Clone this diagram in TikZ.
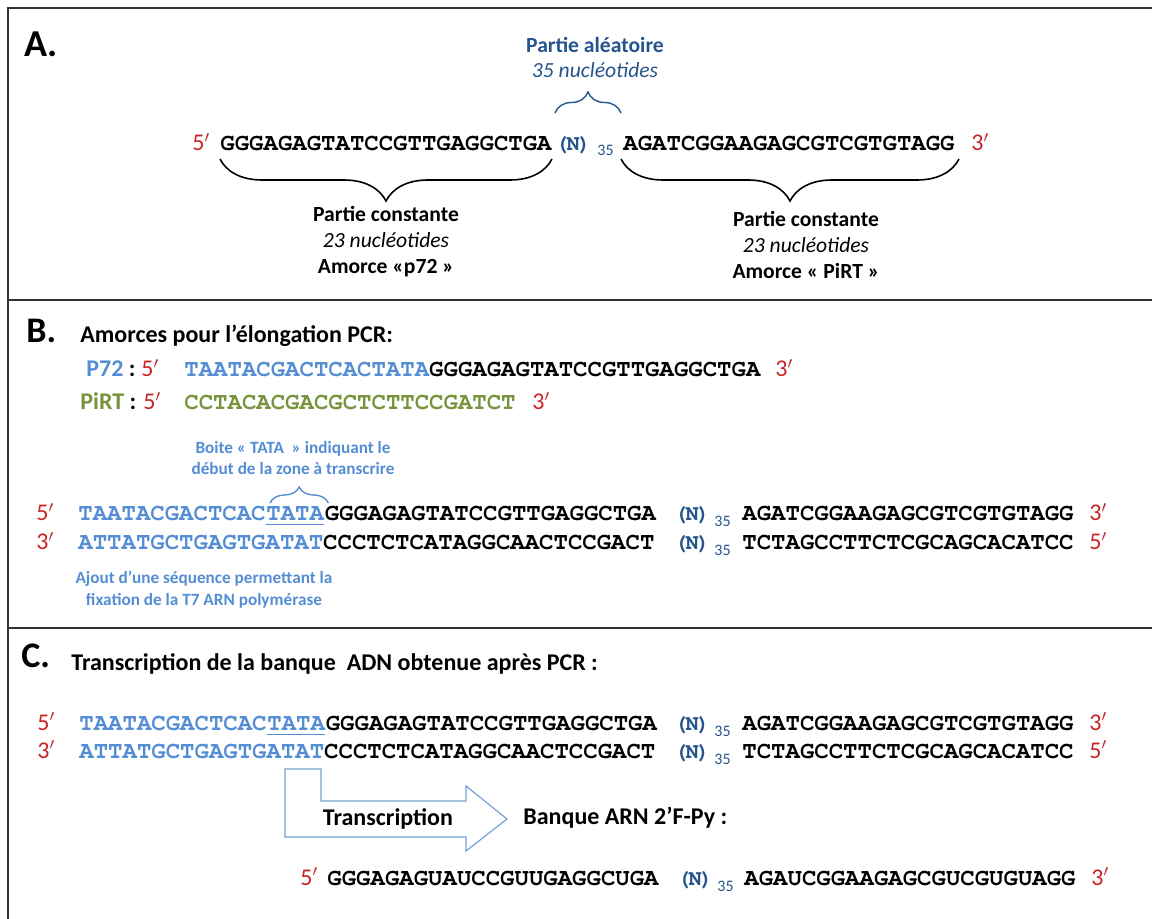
\documentclass[tikz,border=0pt]{standalone}
\usepackage{fontspec}
\setmainfont{Carlito}
\newcommand\seqfont{\fontencoding{T1}\fontfamily{pcr}\selectfont}
\newcommand\randN{(\kern-1pt N\kern-1pt)}
\usetikzlibrary{positioning, decorations.pathreplacing, calc}

\definecolor{primered}{RGB}{200,38,38}
\definecolor{randblue}{RGB}{38,84,140}
\definecolor{promblue}{RGB}{84,141,212}
\definecolor{pirtgreen}{RGB}{119,147,60}
\definecolor{arrowblue}{RGB}{120,160,215}
\definecolor{framegray}{RGB}{50,50,50}

\begin{document}
\begin{tikzpicture}[
    x=0.5pt, y=-0.5pt,
    seq/.style={inner sep=0pt, anchor=base west, font=\seqfont\bfseries\fontsize{12}{12}\selectfont},
    nrand/.style={inner sep=0pt, anchor=base west, text=randblue, font=\seqfont\bfseries\fontsize{11}{11}\selectfont},
    sub/.style={inner sep=0pt, anchor=base west, text=randblue, font=\fontsize{8}{8}\selectfont},
    prime/.style={inner sep=0pt, anchor=base west, text=primered, font=\fontsize{12}{12}\selectfont},
    panel/.style={inner sep=0pt, anchor=base west, font=\bfseries\fontsize{18}{18}\selectfont},
    title/.style={inner sep=0pt, anchor=base west, font=\bfseries\fontsize{12}{12}\selectfont},
    primer/.style={inner sep=0pt, anchor=base west, font=\bfseries\fontsize{12}{12}\selectfont},
    lbl/.style={inner sep=0pt, anchor=base, font=\bfseries\fontsize{10.8}{10.8}\selectfont},
    lblit/.style={inner sep=0pt, anchor=base, font=\itshape\fontsize{10.8}{10.8}\selectfont},
    note/.style={inner sep=0pt, anchor=base, text=promblue, font=\bfseries\fontsize{8.6}{8.6}\selectfont},
    bigbrace/.style={decorate, decoration={brace, amplitude=21pt, mirror}, line width=0.8pt},
    smallbrace/.style={decorate, decoration={brace, amplitude=#1}, line width=0.7pt},
    uline/.style={promblue, line width=0.5pt},
    trarrow/.style={draw=arrowblue, line width=0.6pt, fill=white},
    frame/.style={framegray, line width=0.9pt}
]
\useasboundingbox (0,0) rectangle (1152,919);

% Frame and panel separators
\draw[frame] (1152,8) -- (8,8) -- (8,919);
\draw[frame] (8,300) -- (1152,300);
\draw[frame] (8,628) -- (1152,628);

% ================= Panel A =================
\node[panel, font=\bfseries\fontsize{19}{19}\selectfont] (alab) at (24,57) {A.};

\node[lbl, text=randblue] (arandom) at (595,53) {Partie aléatoire};
\node[lblit, text=randblue] (arandnb) at (595,78) {35 nucléotides};

\node[prime] (a5) at (192,151) {5$'$};
\node[seq] (aseq1) at (220,151) {GGGAGAGTATCCGTTGAGGCTGA};
\node[nrand] (an) at (555,151) {\randN};
\node[sub] (a35) at (597,156) {35};
\node[seq] (aseq2) at (623,151) {AGATCGGAAGAGCGTCGTGTAGG};
\node[prime] (a3) at (971,151) {3$'$};

% braces
\draw[smallbrace=10.5pt, randblue] (555,113) -- (621,113);
\draw[bigbrace] ([yshift=-4pt]aseq1.base west) -- ([yshift=-4pt]aseq1.base east);
\draw[bigbrace] ([yshift=-4pt, xshift=-1pt]aseq2.base west) -- ([yshift=-4pt, xshift=2pt]aseq2.base east);

% constant parts
\node[lbl] (aconst1) at (386,222) {Partie constante};
\node[lblit] (anb1) at (386,248) {23 nucléotides};
\node[lbl] (ap72) at (386,274) {Amorce «p72 »};
\node[lbl] (aconst2) at (806,227) {Partie constante};
\node[lblit] (anb2) at (806,253) {23 nucléotides};
\node[lbl] (apirt) at (806,279) {Amorce « PiRT »};

% ================= Panel B =================
\node[panel] (blab) at (26,343) {B.};
\node[title] (btitle) at (80,343) {Amorces pour l’élongation PCR:};

% primers
\node[primer] (p72name) at (86,377) {{\color{promblue}P72} :};
\node[prime] (p72five) at (141,377) {5$'$};
\node[seq] (p72seq) at (184,377) {{\color{promblue}TAATACGACTCACTATA}GGGAGAGTATCCGTTGAGGCTGA};
\node[prime] (p72three) at (775,377) {3$'$};

\node[primer] (pirtname) at (80,410) {{\color{pirtgreen}PiRT} :};
\node[prime] (pirtfive) at (143,410) {5$'$};
\node[seq, text=pirtgreen] (pirtseq) at (184,410) {CCTACACGACGCTCTTCCGATCT};
\node[prime] (pirtthree) at (532,410) {3$'$};

% TATA box
\node[note] (bbox1) at (293,454) {Boite « TATA\ \ » indiquant le};
\node[note] (bbox2) at (293,475) {début de la zone à transcrire};

% double strand
\node[prime] (b5top) at (36,521) {5$'$};
\node[seq, text=promblue] (btop1) at (78,521) {TAATACGACTCAC};
\node[seq, text=promblue] (btata) at (btop1.base east) {TATA};
\node[seq] (btop2) at (btata.base east) {GGGAGAGTATCCGTTGAGGCTGA};
\node[nrand] (bntop) at (674,521) {\randN};
\node[sub] (b35top) at (714,527) {35};
\node[seq] (btop3) at (742,521) {AGATCGGAAGAGCGTCGTGTAGG};
\node[prime] (b3top) at (1089,521) {3$'$};

\draw[uline] ([yshift=-2pt]btata.base west) -- ([yshift=-2pt]btata.base east);
\draw[smallbrace=8pt, promblue] ([yshift=9pt, xshift=2pt]btata.base west) -- ([yshift=9pt, xshift=2pt]btata.base east);

\node[prime] (b3bot) at (36,550) {3$'$};
\node[seq] (bbot1) at (78,550) {{\color{promblue}ATTATGCTGAGTGATAT}CCCTCTCATAGGCAACTCCGACT};
\node[nrand] (bnbot) at (674,550) {\randN};
\node[sub] (b35bot) at (714,556) {35};
\node[seq] (bbot2) at (742,550) {TCTAGCCTTCTCGCAGCACATCC};
\node[prime] (b5bot) at (1089,550) {5$'$};

\node[note] (bt7a) at (204,584) {Ajout d’une séquence permettant la};
\node[note] (bt7b) at (204,605) {fixation de la T7 ARN polymérase};

% ================= Panel C =================
\node[panel] (clab) at (21,668) {C.};
\node[title] (ctitle) at (71,670) {Transcription de la banque\ \ ADN obtenue après PCR :};

\node[prime] (c5top) at (37,730) {5$'$};
\node[seq, text=promblue] (ctop1) at (79,730) {TAATACGACTCAC};
\node[seq, text=promblue] (ctata) at (ctop1.base east) {TATA};
\node[seq] (ctop2) at (ctata.base east) {GGGAGAGTATCCGTTGAGGCTGA};
\node[nrand] (cntop) at (674,730) {\randN};
\node[sub] (c35top) at (714,736) {35};
\node[seq] (ctop3) at (742,730) {AGATCGGAAGAGCGTCGTGTAGG};
\node[prime] (c3top) at (1089,730) {3$'$};
\draw[uline] ([yshift=-2pt]ctata.base west) -- ([yshift=-2pt]ctata.base east);

\node[prime] (c3bot) at (37,758) {3$'$};
\node[seq] (cbot1) at (79,758) {{\color{promblue}ATTATGCTGAGTGATAT}CCCTCTCATAGGCAACTCCGACT};
\node[nrand] (cnbot) at (674,758) {\randN};
\node[sub] (c35bot) at (714,764) {35};
\node[seq] (cbot2) at (742,758) {TCTAGCCTTCTCGCAGCACATCC};
\node[prime] (c5bot) at (1089,758) {5$'$};

% bent transcription arrow
\draw[trarrow] (285,769) -- (321,769) -- (321,801) -- (466,801) -- (466,786)
    -- (507,819) -- (466,851) -- (466,837) -- (285,837) -- cycle;
\node[lbl, font=\bfseries\fontsize{12}{12}\selectfont] (ctrans) at (388,825) {Transcription};
\node[title] (cbanque) at (523,824) {Banque ARN 2’F-Py :};

% RNA library
\node[prime] (r5) at (300,885) {5$'$};
\node[seq] (rseq1) at (327,885) {GGGAGAGUAUCCGUUGAGGCUGA};
\node[nrand] (rn) at (677,885) {\randN};
\node[sub] (r35) at (717,891) {35};
\node[seq] (rseq2) at (744,885) {AGAUCGGAAGAGCGUCGUGUAGG};
\node[prime] (r3) at (1091,885) {3$'$};

\end{tikzpicture}
\end{document}
